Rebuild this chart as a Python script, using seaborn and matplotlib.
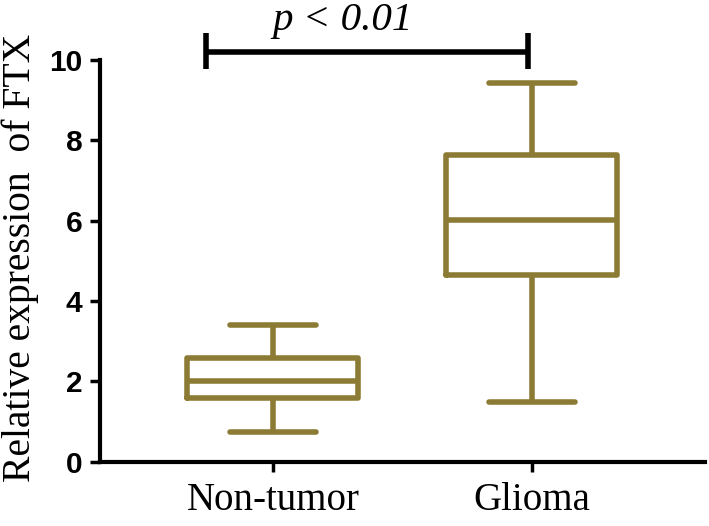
import numpy as np
import pandas as pd
import matplotlib
matplotlib.use('Agg')
import matplotlib.pyplot as plt
import seaborn as sns

# Data: five-number summaries (min, Q1, median, Q3, max)
groups = ['Non-tumor', 'Glioma']
non_tumor = [0.75, 1.59, 2.0, 2.59, 3.41]
glioma = [1.5, 4.65, 6.02, 7.64, 9.43]
y_ticks = [0, 2, 4, 6, 8, 10]
p_text = 'p < 0.01'

df = pd.DataFrame({
    'Group': [groups[0]] * len(non_tumor) + [groups[1]] * len(glioma),
    'Value': non_tumor + glioma,
})

sns.set_style('ticks')
plt.rcParams['font.family'] = ['Liberation Serif', 'DejaVu Serif']
plt.rcParams['text.color'] = 'black'
plt.rcParams['axes.labelcolor'] = 'black'

box_color = '#8C7B34'

fig = plt.figure(figsize=(7.09, 5.26), dpi=100)
ax = fig.add_axes([0.141, 0.122, 0.853, 0.764])

sns.boxplot(data=df, x='Group', y='Value', order=groups, ax=ax,
            whis=(0, 100), width=0.66, fill=False, color=box_color,
            linewidth=4, showfliers=False)

ax.set_ylim(0, 10)
ax.set_xlim(-0.668, 1.668)
ax.set_yticks(y_ticks)
ax.set_yticklabels([str(t) for t in y_ticks], family='Liberation Sans',
                   fontweight='bold', fontsize=21.5)
ax.set_xticklabels(groups, fontsize=28)
ax.set_xlabel('')
ax.set_ylabel('Relative expression  of FTX', fontsize=28.5)
ax.yaxis.set_label_coords(-0.10, 0.507)

for s in ['top', 'right']:
    ax.spines[s].set_visible(False)
for s in ['left', 'bottom']:
    ax.spines[s].set_linewidth(3)
    ax.spines[s].set_color('black')
ax.tick_params(axis='both', width=2.5, length=7.5, color='black', labelcolor='black')
ax.tick_params(axis='y', pad=5)
ax.tick_params(axis='x', pad=7)

# significance bar
x0, x1, yb = -0.26, 0.985, 10.2
ax.plot([x0, x1], [yb, yb], color='black', lw=4, clip_on=False, solid_capstyle='butt')
ax.plot([x0, x0], [9.78, 10.67], color='black', lw=4, clip_on=False, solid_capstyle='butt')
ax.plot([x1, x1], [9.78, 10.67], color='black', lw=4, clip_on=False, solid_capstyle='butt')
ax.text(0.27, 10.75, p_text, ha='center', va='baseline',
        fontsize=29.5, style='italic')

fig.savefig('out.png', dpi=100)
